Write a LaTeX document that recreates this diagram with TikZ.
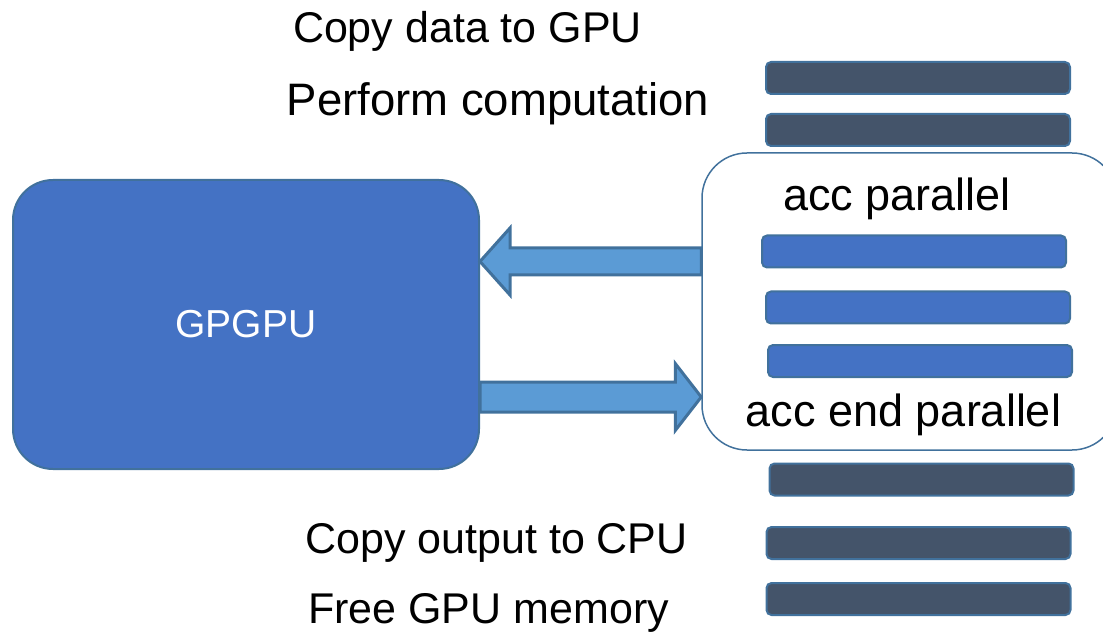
\documentclass[tikz,border=0pt]{standalone}
\usepackage{fontspec}
\setmainfont{Liberation Sans}
\usepackage{xcolor}
\usetikzlibrary{calc}
\definecolor{gpublue}{HTML}{4472C4}
\definecolor{edgeblue}{HTML}{41719C}
\definecolor{arrowblue}{HTML}{5B9BD5}
\definecolor{hostgray}{HTML}{44546A}
\tikzset{
	device/.style={draw=edgeblue, line width=2pt, fill=gpublue, rounded corners=40pt,
			minimum width=466pt, minimum height=289pt, inner sep=0pt, text=white,
			font=\fontsize{39}{44}\selectfont},
	region/.style={draw=edgeblue, line width=1.5pt, rounded corners=45pt,
			minimum width=415pt, minimum height=297pt, inner sep=0pt},
	hostbar/.style={draw=edgeblue, line width=2pt, fill=hostgray, rounded corners=5pt,
			minimum width=304pt, minimum height=32pt, inner sep=0pt},
	kernelbar/.style={hostbar, fill=gpublue},
	blockarrow/.style={draw=edgeblue, line width=3pt, fill=arrowblue, line join=miter},
	step label/.style={anchor=base, inner sep=0pt, font=\fontsize{#1}{50}\selectfont},
	step label/.default=43,
	acc label/.style={anchor=base, inner sep=0pt, font=\fontsize{45}{50}\selectfont}
}

\begin{document}
\begin{tikzpicture}[x=1pt, y=-1pt]

	\useasboundingbox (0,0) rectangle (1103,636);
	\clip (0,0) rectangle (1103,636);

	% the accelerator
	\node[device] (gpu) at (246,324.5) {GPGPU};

	% the parallel region
	\node[region] (kernel) at (909.5,301.5) {};

	% host statements before and after the region
	\foreach \n/\cx/\cy in {1/918/78, 2/918/130, 3/921.5/479.5, 4/918.5/543, 5/918.5/599}
		\node[hostbar] (host\n) at (\cx,\cy) {};

	% statements inside the region
	\node[kernelbar] (loop1) at (914,251.5) {};
	\node[kernelbar] (loop2) at (918,307.5) {};
	\node[kernelbar] (loop3) at (920,361) {};

	% labels
	\node[step label] (copyin) at (467.5,43) {Copy data to GPU};
	\node[step label=45.5] (compute) at (498,116) {Perform computation};
	\node[acc label] (accbegin) at (897,211) {acc parallel};
	\node[acc label] (accend) at (903.5,426) {acc end parallel};
	\node[step label] (copyout) at (496.5,553) {Copy output to CPU};
	\node[step label] (freemem) at (488.5,623) {Free GPU memory};

	% data going back to the device
	\coordinate (tipL) at (gpu.east |- 0,261.5);
	\draw[blockarrow] (tipL) -- ++(30,-33.5) -- ++(0,20) -- (kernel.west |- 0,248)
		-- ++(0,27) -- ($(tipL)+(30,13.5)$) -- ++(0,20) -- cycle;

	% data going into the region
	\coordinate (tipR) at (kernel.west |- 0,397);
	\draw[blockarrow] (gpu.east |- 0,382) -- ($(tipR)+(-26,-15)$) -- ++(0,-18.5)
		-- (tipR) -- ++(-26,33.5) -- ++(0,-18.5) -- (gpu.east |- 0,412) -- cycle;

\end{tikzpicture}
\end{document}
